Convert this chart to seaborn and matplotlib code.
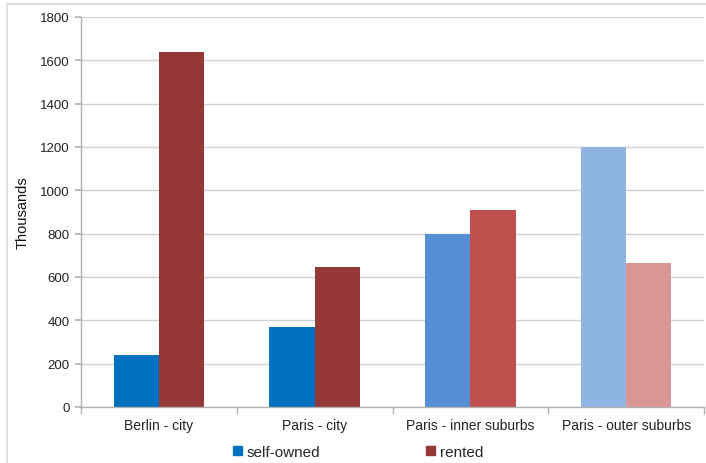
import matplotlib
matplotlib.use("Agg")
import matplotlib.pyplot as plt
import matplotlib.patches as mpatches
import seaborn as sns
import pandas as pd

categories = ["Berlin - city", "Paris - city", "Paris - inner suburbs", "Paris - outer suburbs"]
self_owned = [240, 370, 800, 1200]
rented = [1640, 645, 910, 665]
series = ["self-owned", "rented"]
self_colors = ["#0070C0", "#0070C0", "#558ED5", "#8EB4E3"]
rented_colors = ["#953735", "#953735", "#C0504D", "#D99694"]
yticks = [0, 200, 400, 600, 800, 1000, 1200, 1400, 1600, 1800]

df = pd.DataFrame({
    "category": categories * 2,
    "value": self_owned + rented,
    "type": [series[0]] * 4 + [series[1]] * 4,
})

sns.set_theme(style="white")
plt.rcParams["font.family"] = ["Liberation Sans", "DejaVu Sans"]

fig = plt.figure(figsize=(7.06, 4.64), dpi=100)
ax = fig.add_axes([81/706, 1 - 408/464, (704 - 81)/706, (408 - 18)/464])

sns.barplot(data=df, x="category", y="value", hue="type", order=categories,
            hue_order=series, ax=ax, width=0.58, legend=False, saturation=1,
            palette=["#0070C0", "#953735"])

# recolor bars per category
cols = self_colors + rented_colors
for p, c in zip(ax.patches, cols):
    p.set_facecolor(c)
    p.set_edgecolor("none")

ax.set_ylim(0, 1800)
ax.set_xlim(-0.5, 3.5)
ax.set_yticks(yticks)
ax.set_yticklabels([str(t) for t in yticks], fontsize=9.5, color="#222222")
ax.yaxis.grid(True, color="#d0d0d0", linewidth=1)
ax.set_axisbelow(True)
ax.set_xlabel("")
ax.set_ylabel("Thousands", fontsize=10.5, color="#111111", labelpad=8)

for s in ["top", "right"]:
    ax.spines[s].set_visible(False)
for s in ["left", "bottom"]:
    ax.spines[s].set_color("#b0b0b0")
    ax.spines[s].set_linewidth(1)

ax.set_xticks([0, 1, 2, 3])
ax.set_xticklabels(categories, fontsize=10, color="#222222")
ax.tick_params(axis="x", length=0, pad=8)
ax.tick_params(axis="y", length=4, color="#b0b0b0", direction="out", left=True, pad=4)
# category boundary tick marks
ax.set_xticks([-0.5, 0.5, 1.5, 2.5, 3.5], minor=True)
ax.tick_params(axis="x", which="minor", length=5, color="#b0b0b0", direction="out", bottom=True)

handles = [mpatches.Patch(color="#0070C0", label=series[0]),
           mpatches.Patch(color="#953735", label=series[1])]
fig.legend(handles=handles, loc="center", bbox_to_anchor=(358/706, 1 - 453/464), ncol=2,
           frameon=False, fontsize=11, handlelength=0.6, handleheight=0.6,
           handletextpad=0.3, columnspacing=6.9)

# outer frame
fig.add_artist(mpatches.Rectangle((7/706, -0.05), 1.0, 1 - 5/464 + 0.05,
                                  transform=fig.transFigure, fill=False,
                                  edgecolor="#d8d8d8", linewidth=1.2))

fig.savefig("out.png", dpi=100)
